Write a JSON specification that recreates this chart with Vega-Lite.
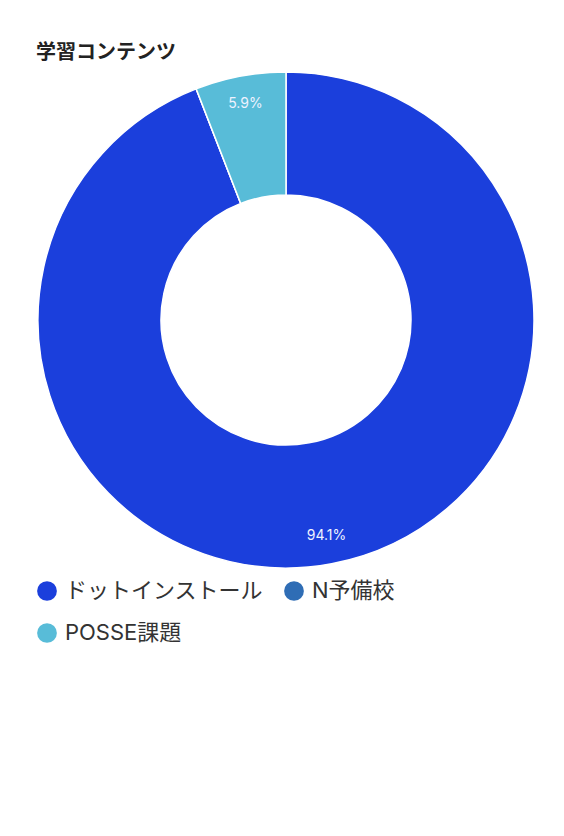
{
  "$schema": "https://vega.github.io/schema/vega-lite/v6.json",
  "width": 496,
  "height": 496,
  "autosize": {"type": "none"},
  "padding": {"left": 38, "top": 72, "right": 30, "bottom": 268},
  "background": "white",
  "title": {
    "text": "学習コンテンツ",
    "anchor": "start",
    "frame": "group",
    "dx": -2,
    "offset": 6,
    "fontSize": 20,
    "fontWeight": "bold",
    "color": "#222222"
  },
  "data": {
    "values": [
      {"name": "ドットインストール", "value": 94.1, "rank": 1, "label": "94.1%"},
      {"name": "N予備校", "value": 0, "rank": 2, "label": "0%"},
      {"name": "POSSE課題", "value": 5.9, "rank": 3, "label": "5.9%"}
    ]
  },
  "encoding": {
    "theta": {"field": "value", "type": "quantitative", "stack": true},
    "order": {"field": "rank", "type": "quantitative"}
  },
  "layer": [
    {
      "mark": {"type": "arc", "outerRadius": 248, "innerRadius": 125, "stroke": "white", "strokeWidth": 1.5},
      "encoding": {
        "color": {
          "field": "name",
          "type": "nominal",
          "sort": ["ドットインストール", "N予備校", "POSSE課題"],
          "scale": {
            "domain": ["ドットインストール", "N予備校", "POSSE課題"],
            "range": ["#1b3fdc", "#2f6db5", "#58bcd8"]
          },
          "legend": {
            "orient": "none",
            "legendX": -2,
            "legendY": 508,
            "columns": 2,
            "direction": "horizontal",
            "title": null,
            "symbolType": "circle",
            "symbolSize": 390,
            "symbolStrokeWidth": 0,
            "symbolOpacity": 1,
            "labelFontSize": 22,
            "labelColor": "#333333",
            "labelLimit": 400,
            "labelOffset": 7,
            "columnPadding": 19,
            "rowPadding": 20,
            "padding": 0
          }
        }
      }
    },
    {
      "transform": [{"filter": "datum.value > 0"}],
      "mark": {"type": "text", "radius": 220, "fontSize": 14},
      "encoding": {
        "text": {"field": "label", "type": "nominal"},
        "color": {"value": "#eef2ff"}
      }
    }
  ],
  "config": {
    "view": {"stroke": null},
    "font": "Inter, Noto Sans CJK JP"
  }
}
